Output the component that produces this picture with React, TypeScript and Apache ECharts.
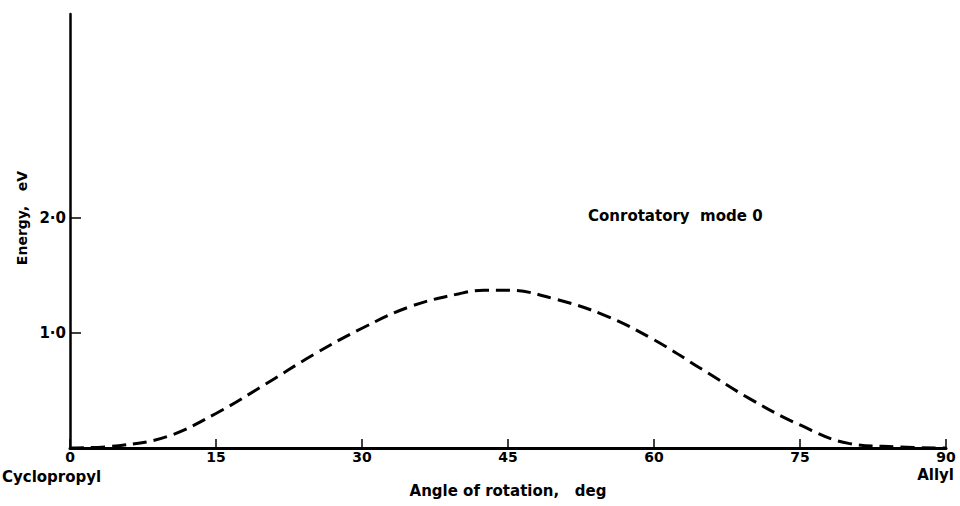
import React, { useEffect, useRef } from "react";
import * as echarts from "echarts";

const angles = [0, 5, 10, 15, 20, 25, 30, 35, 40, 42.5, 45, 50, 55, 60, 65, 70, 75, 80, 85, 90];
const energies = [0, 0.02, 0.1, 0.3, 0.55, 0.81, 1.04, 1.23, 1.34, 1.37, 1.37, 1.29, 1.15, 0.94, 0.68, 0.42, 0.2, 0.04, 0.01, 0];
const xTicks = [0, 15, 30, 45, 60, 75, 90];
const yTicks = [1, 2];
const yTickLabels = ["1·0", "2·0"];

export default function App() {
  const ref = useRef<HTMLDivElement>(null);
  useEffect(() => {
    if (!ref.current) return;
    const chart = echarts.init(ref.current, null, { renderer: "svg" });
    const font = "DejaVu Sans";
    chart.setOption({
      animation: false,
      backgroundColor: "#ffffff",
      grid: { left: 70, right: 14, top: 14, bottom: 58 },
      xAxis: {
        type: "value",
        min: 0,
        max: 90,
        name: "Angle of rotation,   deg",
        nameLocation: "middle",
        nameGap: 35,
        nameTextStyle: { color: "#000", fontFamily: font, fontWeight: "bold", fontSize: 15 },
        axisLine: { show: true, lineStyle: { color: "#000", width: 3 } },
        axisTick: { show: true, inside: true, length: 9, lineStyle: { color: "#000", width: 1.5 }, customValues: xTicks },
        axisLabel: { color: "#000", fontFamily: font, fontWeight: "bold", fontSize: 14, margin: 2, customValues: xTicks },
        splitLine: { show: false },
      },
      yAxis: {
        type: "value",
        min: 0,
        max: 3.77,
        name: "Energy,   eV",
        nameLocation: "middle",
        nameGap: 38,
        nameRotate: 90,
        nameTextStyle: { color: "#000", fontFamily: font, fontWeight: "bold", fontSize: 14, padding: [0, 0, 0, 26] },
        axisLine: { show: true, lineStyle: { color: "#000", width: 2.5 } },
        axisTick: { show: true, inside: true, length: 11, lineStyle: { color: "#000", width: 1.5 }, customValues: yTicks },
        axisLabel: {
          color: "#000", fontFamily: font, fontWeight: "bold", fontSize: 15, margin: 4,
          customValues: yTicks,
          formatter: (v: number) => { const i = yTicks.indexOf(v); return i >= 0 ? yTickLabels[i] : ""; },
        },
        splitLine: { show: false },
      },
      graphic: [
        { type: "text", left: 2, top: 469, style: { text: "Cyclopropyl", fill: "#000", font: `bold 15px "${font}"` } },
        { type: "text", right: 6, top: 467, style: { text: "Allyl", fill: "#000", font: `bold 15px "${font}"` } },
        { type: "text", left: 588, top: 208, style: { text: "Conrotatory  mode 0", fill: "#000", font: `bold 15px "${font}"` } },
      ],
      series: [
        {
          type: "line",
          data: angles.map((a, i) => [a, energies[i]]),
          smooth: 0.4,
          showSymbol: false,
          lineStyle: { color: "#000", width: 3, type: [14, 7] },
        },
      ],
    });
    return () => chart.dispose();
  }, []);
  return <div ref={ref} style={{ position: "absolute", left: 0, top: 0, width: 960, height: 506 }} />;
}
